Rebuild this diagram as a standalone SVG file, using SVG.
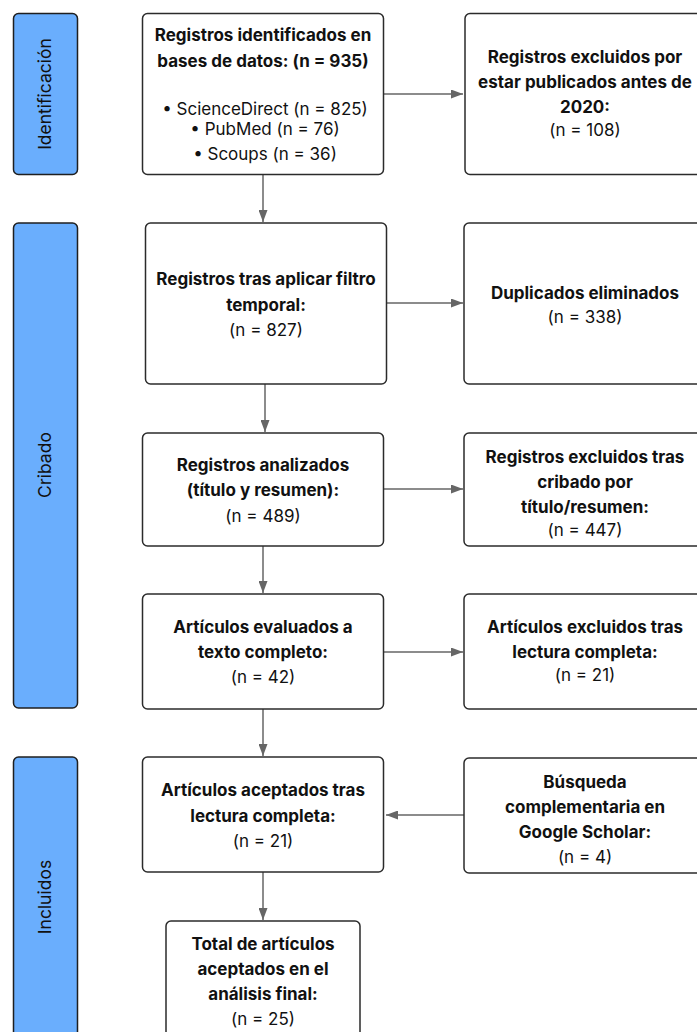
<svg xmlns="http://www.w3.org/2000/svg" width="697" height="1032" viewBox="0 0 697 1032">
<style>
.phase{fill:#6aaefd;stroke:#1f1f1f;stroke-width:1.5}
.box{fill:#fff;stroke:#2b2b2b;stroke-width:1.5}
.t{font-family:Inter,"Noto Sans",sans-serif;font-size:17px;fill:#111;text-anchor:middle}
.b{font-weight:700}
.pl{font-family:Inter,"Noto Sans",sans-serif;font-size:17.5px;fill:#111;text-anchor:middle}
.c{stroke:#666;stroke-width:1.5;fill:none;marker-end:url(#ah)}
</style>
<defs>
<marker id="ah" viewBox="0 0 12 9" refX="12" refY="4.5" markerWidth="12" markerHeight="9" markerUnits="userSpaceOnUse" orient="auto">
<path d="M0,0 L12,4.5 L0,9 z" fill="#666"/>
</marker>
</defs>
<rect width="697" height="1032" fill="#fff"/>
<g id="phase-identificacion">
<rect class="phase" x="13.5" y="13.5" width="64" height="161" rx="5"/>
<text class="pl" transform="translate(51,94) rotate(-90)">Identificación</text>
</g>
<g id="phase-cribado">
<rect class="phase" x="13.5" y="223" width="64" height="485" rx="5"/>
<text class="pl" transform="translate(51,465) rotate(-90)">Cribado</text>
</g>
<g id="phase-incluidos">
<rect class="phase" x="13.5" y="757" width="64" height="290" rx="5"/>
<text class="pl" transform="translate(51,897) rotate(-90)">Incluidos</text>
</g>
<g id="connectors">
<line class="c" x1="384" y1="94" x2="463" y2="94"/>
<line class="c" x1="263" y1="174" x2="263" y2="222"/>
<line class="c" x1="387" y1="303" x2="463" y2="303"/>
<line class="c" x1="265" y1="384" x2="265" y2="432"/>
<line class="c" x1="384" y1="489" x2="463" y2="489"/>
<line class="c" x1="263" y1="546" x2="263" y2="593"/>
<line class="c" x1="384" y1="652" x2="463" y2="652"/>
<line class="c" x1="263" y1="709" x2="263" y2="756"/>
<line class="c" x1="464" y1="815" x2="386" y2="815"/>
<line class="c" x1="263" y1="872" x2="263" y2="920"/>
</g>
<g id="n1">
<rect class="box" x="142.5" y="13.5" width="241" height="161" rx="5"/>
<text class="t b" x="263" y="41">Registros identificados en</text>
<text class="t b" x="263" y="67">bases de datos: (n = 935)</text>
<text class="t" x="265" y="115">• ScienceDirect (n = 825)</text>
<text class="t" x="265" y="135">• PubMed (n = 76)</text>
<text class="t" x="265" y="160">• Scoups (n = 36)</text>
</g>
<g id="n1r">
<rect class="box" x="465" y="13.5" width="240" height="161" rx="5"/>
<text class="t b" x="585" y="63">Registros excluidos por</text>
<text class="t b" x="585" y="88">estar publicados antes de</text>
<text class="t b" x="585" y="113">2020:</text>
<text class="t" x="585" y="136">(n = 108)</text>
</g>
<g id="n2">
<rect class="box" x="145.5" y="223" width="241" height="161" rx="5"/>
<text class="t b" x="266" y="285">Registros tras aplicar filtro</text>
<text class="t b" x="266" y="311">temporal:</text>
<text class="t" x="266" y="336">(n = 827)</text>
</g>
<g id="n2r">
<rect class="box" x="464" y="223" width="240" height="161" rx="5"/>
<text class="t b" x="585" y="299">Duplicados eliminados</text>
<text class="t" x="585" y="323">(n = 338)</text>
</g>
<g id="n3">
<rect class="box" x="142.5" y="433" width="241" height="113" rx="5"/>
<text class="t b" x="263" y="471">Registros analizados</text>
<text class="t b" x="263" y="496">(título y resumen):</text>
<text class="t" x="263" y="522">(n = 489)</text>
</g>
<g id="n3r">
<rect class="box" x="464" y="433" width="240" height="113" rx="5"/>
<text class="t b" x="585" y="463">Registros excluidos tras</text>
<text class="t b" x="585" y="488">cribado por</text>
<text class="t b" x="585" y="513">título/resumen:</text>
<text class="t" x="585" y="536">(n = 447)</text>
</g>
<g id="n4">
<rect class="box" x="142.5" y="594" width="241" height="115" rx="5"/>
<text class="t b" x="263" y="633">Artículos evaluados a</text>
<text class="t b" x="263" y="658">texto completo:</text>
<text class="t" x="263" y="683">(n = 42)</text>
</g>
<g id="n4r">
<rect class="box" x="464" y="594" width="240" height="115" rx="5"/>
<text class="t b" x="585" y="633">Artículos excluidos tras</text>
<text class="t b" x="585" y="658">lectura completa:</text>
<text class="t" x="585" y="681">(n = 21)</text>
</g>
<g id="n5">
<rect class="box" x="142.5" y="757" width="241" height="115" rx="5"/>
<text class="t b" x="263" y="796">Artículos aceptados tras</text>
<text class="t b" x="263" y="822">lectura completa:</text>
<text class="t" x="263" y="847">(n = 21)</text>
</g>
<g id="n5r">
<rect class="box" x="464" y="758" width="240" height="115" rx="5"/>
<text class="t b" x="585" y="788">Búsqueda</text>
<text class="t b" x="585" y="813">complementaria en</text>
<text class="t b" x="585" y="838">Google Scholar:</text>
<text class="t" x="585" y="863">(n = 4)</text>
</g>
<g id="n6">
<rect class="box" x="166" y="921" width="194" height="130" rx="5"/>
<text class="t b" x="263" y="950">Total de artículos</text>
<text class="t b" x="263" y="975">aceptados en el</text>
<text class="t b" x="263" y="1000">análisis final:</text>
<text class="t" x="263" y="1025">(n = 25)</text>
</g>
</svg>
